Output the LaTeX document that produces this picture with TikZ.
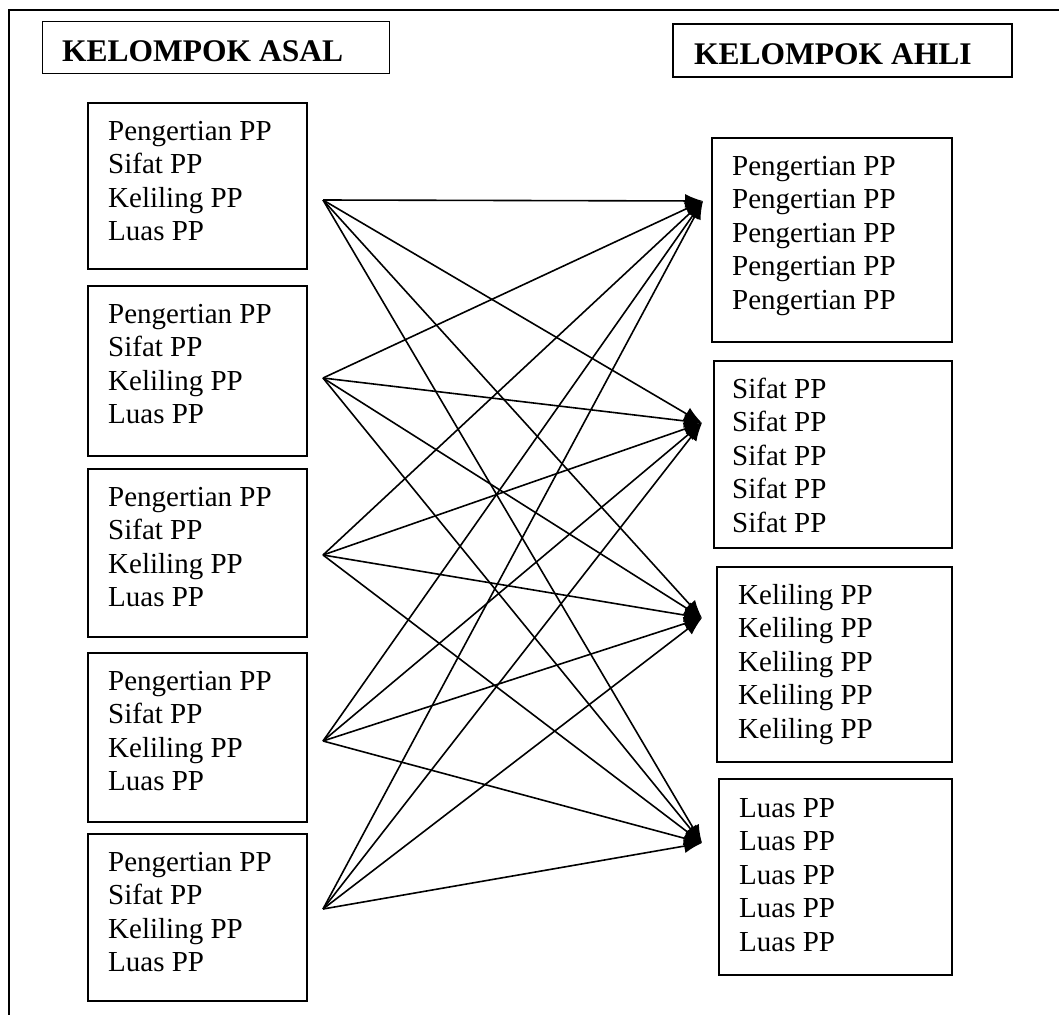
\documentclass[tikz,border=0pt]{standalone}
\usepackage{fontspec}
\setmainfont{Liberation Serif}
\usetikzlibrary{arrows.meta}
\newcommand\bodysize{\fontsize{29}{33.6}\selectfont}
\newcommand\headsize{\fontsize{31.5}{38}\selectfont\bfseries}

\begin{document}
\begin{tikzpicture}[x=1pt,y=-1pt,
  boxframe/.style={draw,line width=1.6pt,inner sep=0pt,anchor=north west},
  headframe/.style={boxframe},
  lines/.style={inner sep=0pt,anchor=base west,font=\bodysize},
  headtext/.style={inner sep=0pt,anchor=base west,font=\headsize},
  link/.style={line width=1.6pt,-{Latex[length=18pt,width=14pt]}}]
\useasboundingbox (0,0) rectangle (1059,1014);

% outer frame (runs off the page on the right and bottom)
\draw[line width=2.2pt] (9,1030) -- (9,10) -- (1080,10);

% headings
\node[headframe,line width=1pt,minimum width=347pt,minimum height=52pt] (asal) at (42,21) {};
\node[headtext] (asaltext) at (62,62) {KELOMPOK ASAL};
\node[headframe,line width=2pt,minimum width=339pt,minimum height=53pt] (ahli) at (672,23) {};
\node[headtext] (ahlitext) at (694,65) {KELOMPOK AHLI};

% home groups
\newcommand\homelist{\parbox[t]{200pt}{\raggedright Pengertian PP\\Sifat PP\\Keliling PP\\Luas PP}}
\node[boxframe,minimum width=219pt,minimum height=166pt] (h1) at (87,102) {};
\node[lines] (h1t) at (108,140) {\homelist};
\node[boxframe,minimum width=219pt,minimum height=170pt] (h2) at (87,285) {};
\node[lines] (h2t) at (108,323) {\homelist};
\node[boxframe,minimum width=219pt,minimum height=168pt] (h3) at (87,468) {};
\node[lines] (h3t) at (108,506) {\homelist};
\node[boxframe,minimum width=219pt,minimum height=169pt] (h4) at (87,652) {};
\node[lines] (h4t) at (108,690) {\homelist};
\node[boxframe,minimum width=219pt,minimum height=167pt] (h5) at (87,833) {};
\node[lines] (h5t) at (108,871) {\homelist};

% expert groups
\newcommand\fivetimes[1]{\parbox[t]{210pt}{\raggedright #1\\#1\\#1\\#1\\#1}}
\node[boxframe,minimum width=240pt,minimum height=204pt] (e1) at (711,137) {};
\node[lines] (e1t) at (732,175) {\fivetimes{Pengertian PP}};
\node[boxframe,minimum width=238pt,minimum height=187pt] (e2) at (713,360) {};
\node[lines] (e2t) at (732,398) {\fivetimes{Sifat PP}};
\node[boxframe,minimum width=235pt,minimum height=195pt] (e3) at (716,566) {};
\node[lines] (e3t) at (738,604) {\fivetimes{Keliling PP}};
\node[boxframe,minimum width=233pt,minimum height=196pt] (e4) at (718,778) {};
\node[lines] (e4t) at (739,817) {\fivetimes{Luas PP}};

% connector ends
\coordinate (s1) at (323,200);
\coordinate (s2) at (323,378);
\coordinate (s3) at (323,555);
\coordinate (s4) at (323,741);
\coordinate (s5) at (323,909);
\coordinate (t1) at (703,201);
\coordinate (t2) at (702,423);
\coordinate (t3) at (702,618);
\coordinate (t4) at (702,843);

% every home group sends a member to every expert group
\foreach \s in {1,...,5}
  \foreach \t in {1,...,4}
    \draw[link] (s\s) -- (t\t);
\end{tikzpicture}
\end{document}
